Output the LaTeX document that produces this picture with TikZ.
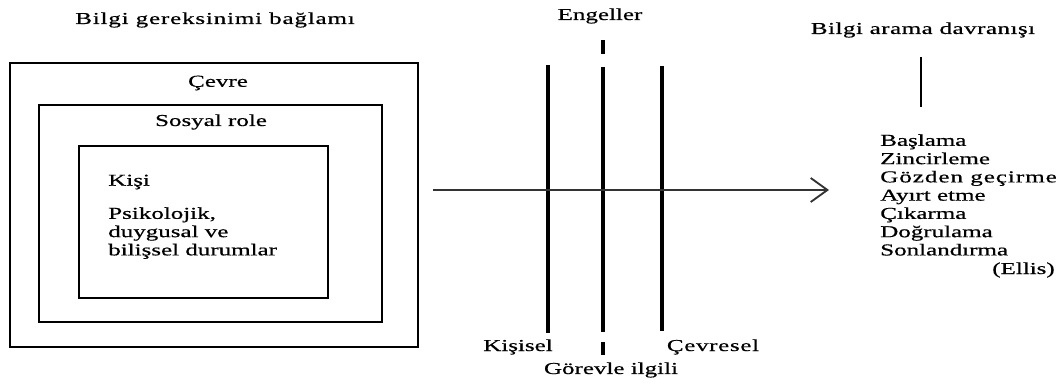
\documentclass[tikz,border=0pt]{standalone}
\usepackage{fontspec}
\setmainfont{Liberation Serif}[FakeStretch=1.5,FakeBold=0.6]
\usetikzlibrary{arrows.meta}
\newcommand\spaced[2]{{\addfontfeature{LetterSpace=#1}#2}}
\tikzset{
	label text/.style={inner sep=0pt,font=\fontsize{12.5}{13.7}\selectfont},
	box line/.style={line width=1.7pt},
	bar line/.style={line width=3pt},
}
\begin{document}
\begin{tikzpicture}[x=0.75pt,y=0.75pt]
	\useasboundingbox (0,0) rectangle (1061,383);
	% Bilgi gereksinimi
	\node[label text] (context) at (215,363) {\spaced{5}{Bilgi gereksinimi bağlamı}};
	\draw[box line] (10,36) rectangle (418,320);
	\draw[box line] (39,61) rectangle (382,278);
	\draw[box line] (79,85) rectangle (328,237);
	\node[label text] (env) at (218,300) {Çevre};
	\node[label text] (role) at (211,261) {Sosyal role};
	\node[label text,anchor=west] (person) at (108,201) {Kişi};
	\node[label text,anchor=north west,align=left] (states) at (108,176) {Psikolojik,\\duygusal ve\\bilişsel durumlar};
	% Engeller
	\node[label text] (barriers) at (600,367) {Engeller};
	\coordinate (p1) at (548,318);
	\coordinate (p2) at (548,50);
	\coordinate (t1) at (603,316);
	\coordinate (t2) at (603,51);
	\coordinate (e1) at (662,317);
	\coordinate (e2) at (662,52);
	\coordinate (t3) at (603,343);
	\coordinate (t4) at (603,329);
	\coordinate (t5) at (603,41);
	\coordinate (t6) at (603,28);
	\draw[bar line] (p1) -- (p2);
	\draw[bar line] (t1) -- (t2);
	\draw[bar line] (e1) -- (e2);
	\draw[bar line] (t3) -- (t4);
	\draw[bar line] (t5) -- (t6);
	\node[label text] (personal) at (518,36) {Kişisel};
	\node[label text] (environmental) at (713,36) {\spaced{4}{Çevresel}};
	\node[label text] (task) at (611,13) {Görevle ilgili};
	% ok
	\coordinate (a1) at (433,193);
	\coordinate (a2) at (829,193);
	\draw[line width=1.3pt,black!80,-{Straight Barb[length=12.5pt,width=18pt,line width=1.4pt]}] (a1) -- (a2);
	% Bilgi arama
	\node[label text] (seeking) at (923,353) {\spaced{3}{Bilgi arama davranışı}};
	\coordinate (s1) at (921,326);
	\coordinate (s2) at (921,276);
	\draw[line width=2pt] (s1) -- (s2);
	\node[label text,anchor=north west,align=left] (stages) at (880,249) {Başlama\\Zincirleme\\\spaced{6}{Gözden geçirme}\\Ayırt etme\\Çıkarma\\Doğrulama\\Sonlandırma};
	\node[label text,anchor=east] (ellis) at (1055,113) {(Ellis)};
\end{tikzpicture}
\end{document}
